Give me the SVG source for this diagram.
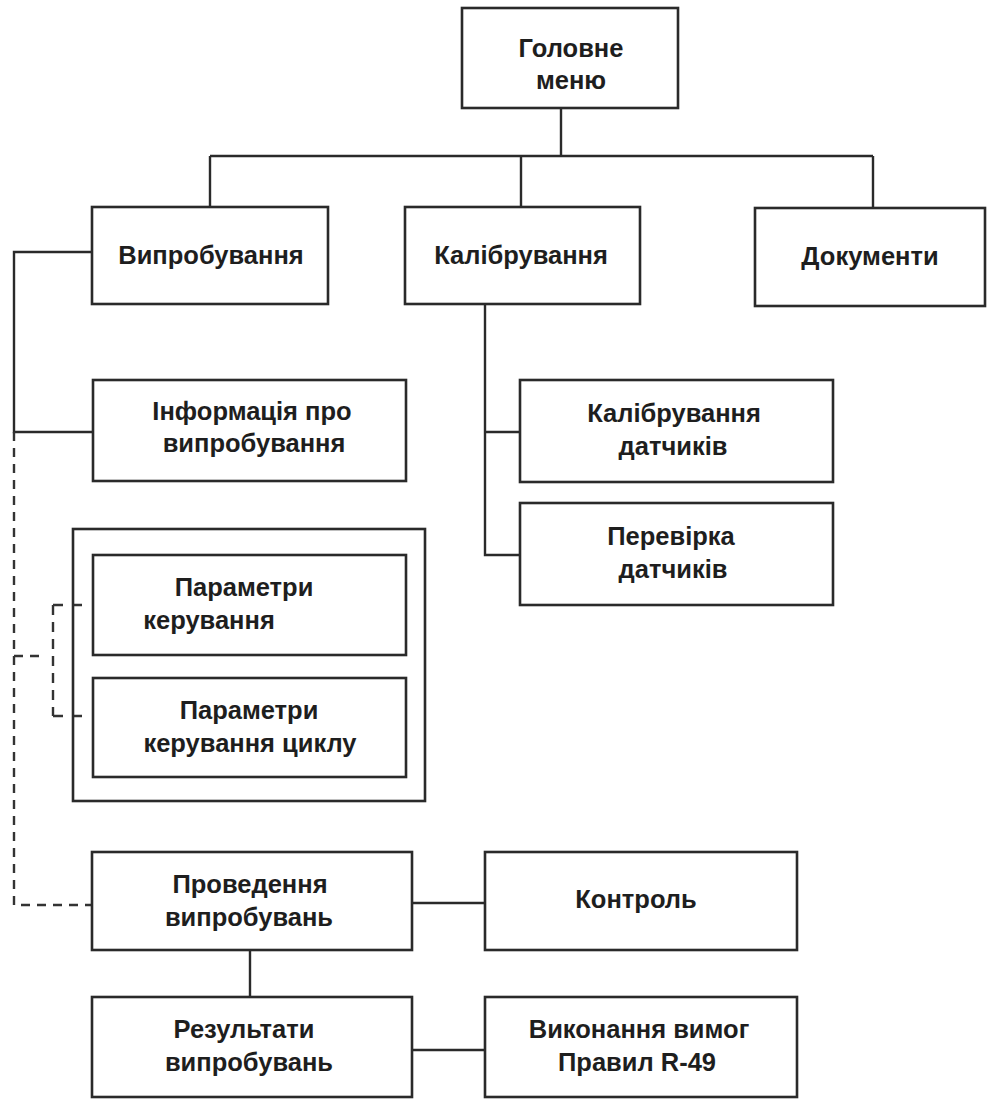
<svg xmlns="http://www.w3.org/2000/svg" width="988" height="1099" viewBox="0 0 988 1099">
<style>
.box{fill:#fff;stroke:#2a2a2a;stroke-width:2.6}
.ln{fill:none;stroke:#2a2a2a;stroke-width:2.4}
.ds{fill:none;stroke:#333;stroke-width:2.4;stroke-dasharray:9 7}
.tk{fill:none;stroke:#333;stroke-width:2.4}
text{font-family:"Liberation Sans",Arial,sans-serif;font-weight:bold;font-size:25.5px;fill:#1e1e1e;text-anchor:middle}
</style>
<rect width="988" height="1099" fill="#fff"/>
<g id="connectors">
<path class="ln" d="M561,108 V156 M210,156 H873 M210,156 V207 M521,156 V207 M873,156 V208"/>
<path class="ln" d="M92,252 H14 V432 H92"/>
<path class="ln" d="M485,304 V555 H520 M485,432 H520"/>
<path class="ds" d="M14,432 V905 H92"/>
<path class="ds" d="M14,656 H44"/>
<path class="ds" style="stroke-dasharray:10 7" d="M53,605 V716"/>
<path class="tk" d="M53,605 H63 M53,716 H63 M74,605 H82 M74,716 H82"/>
<path class="ln" d="M412,903 H485 M250,950 V997 M412,1050 H485"/>
</g>
<g id="n-main"><rect class="box" x="462" y="8" width="216" height="100"/><text x="571" y="57">Головне</text><text x="571" y="89">меню</text></g>
<g id="n-vyp"><rect class="box" x="92" y="207" width="236" height="97"/><text x="211" y="264">Випробування</text></g>
<g id="n-kal"><rect class="box" x="405" y="207" width="235" height="97"/><text x="521" y="264">Калібрування</text></g>
<g id="n-doc"><rect class="box" x="755" y="208" width="230" height="98"/><text x="870" y="265">Документи</text></g>
<g id="n-info"><rect class="box" x="93" y="380" width="313" height="101"/><text x="252" y="420">Інформація про</text><text x="254" y="452">випробування</text></g>
<g id="n-kald"><rect class="box" x="520" y="380" width="313" height="102"/><text x="674" y="422">Калібрування</text><text x="673" y="455">датчиків</text></g>
<g id="n-perev"><rect class="box" x="520" y="503" width="313" height="102"/><text x="671" y="545">Перевірка</text><text x="673" y="578">датчиків</text></g>
<g id="n-group"><rect class="box" style="fill:none" x="73" y="529" width="352" height="272"/></g>
<g id="n-park"><rect class="box" x="93" y="555" width="313" height="100"/><text x="244" y="596">Параметри</text><text x="209" y="629">керування</text></g>
<g id="n-parc"><rect class="box" x="93" y="678" width="313" height="99"/><text x="249" y="719">Параметри</text><text x="250" y="752">керування циклу</text></g>
<g id="n-prov"><rect class="box" x="92" y="852" width="320" height="98"/><text x="250" y="893">Проведення</text><text x="249" y="926">випробувань</text></g>
<g id="n-kontr"><rect class="box" x="485" y="852" width="312" height="98"/><text x="636" y="908">Контроль</text></g>
<g id="n-rez"><rect class="box" x="92" y="997" width="320" height="100"/><text x="244" y="1038">Результати</text><text x="249" y="1071">випробувань</text></g>
<g id="n-vyk"><rect class="box" x="485" y="997" width="312" height="100"/><text x="639" y="1038">Виконання вимог</text><text x="637" y="1071">Правил R-49</text></g>
</svg>
